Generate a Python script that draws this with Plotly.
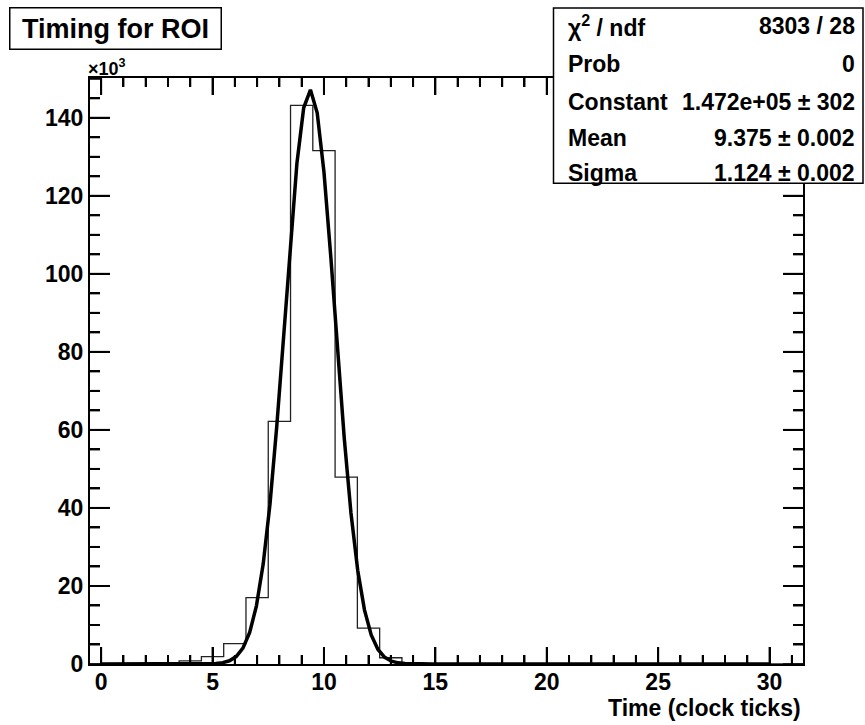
import numpy as np
import plotly.graph_objects as go

# ---- data ----
bin_centers = list(range(0, 32))  # bins of width 1 from -0.5 to 31.5
counts = [0, 0, 100, 300, 800, 1900, 5200, 17000, 62200, 143200, 131600, 47900,
          9200, 1600, 300] + [0] * 17
# Gaussian fit parameters shown in the stats box
fit_const = 1.472e5
fit_mean = 9.375
fit_sigma = 1.124
fit_range = (0.0, 30.0)

x_ticks = [0, 5, 10, 15, 20, 25, 30]
x_minor = list(range(0, 32))
y_ticks = [0, 20000, 40000, 60000, 80000, 100000, 120000, 140000]
y_minor = list(range(0, 150001, 5000))
y_ticktext = ["0", "20", "40", "60", "80", "100", "120", "140"]

stats_labels = ["χ<sup>2</sup> / ndf", "Prob", "Constant", "Mean", "Sigma"]
stats_values = ["8303 / 28", "0", "1.472e+05 ± 302", "9.375 ± 0.002", "1.124 ± 0.002"]

# ---- geometry (pixels) ----
W_PX, H_PX = 865, 725
L, R, T, B = 90, 803, 78, 664
PW, PH = R - L, B - T
X_RANGE = [-0.5, 31.5]
Y_RANGE = [0, 150200]

def xp(px):
    return (px - L) / PW

def yp(py):
    return (B - py) / PH

FONT = "Liberation Sans, Arial, Helvetica, sans-serif"

# histogram outline as a step contour
edges = [c - 0.5 for c in bin_centers] + [bin_centers[-1] + 0.5]
hist_y = counts + [counts[-1]]

fx = np.linspace(fit_range[0], fit_range[1], 100)
fy = fit_const * np.exp(-0.5 * ((fx - fit_mean) / fit_sigma) ** 2)

# inside tick marks (pixel lengths converted with the axis scale)
dx_per_px = (X_RANGE[1] - X_RANGE[0]) / PW
dy_per_px = (Y_RANGE[1] - Y_RANGE[0]) / PH
tx, ty = [], []
for v in x_minor:
    ln = (17 if v in x_ticks else 9) * dy_per_px
    tx += [v, v, None, v, v, None]
    ty += [Y_RANGE[0], Y_RANGE[0] + ln, None, Y_RANGE[1], Y_RANGE[1] - ln, None]
for v in y_minor:
    ln = (20 if v in y_ticks else 10) * dx_per_px
    tx += [X_RANGE[0], X_RANGE[0] + ln, None, X_RANGE[1], X_RANGE[1] - ln, None]
    ty += [v, v, None, v, v, None]

fig = go.Figure()
fig.add_trace(go.Scatter(x=tx, y=ty, mode="lines", connectgaps=False,
                         line=dict(color="black", width=2), hoverinfo="skip"))
fig.add_trace(go.Scatter(x=edges, y=hist_y, mode="lines", line_shape="hv",
                         line=dict(color="#222222", width=1.3), hoverinfo="skip"))
fig.add_trace(go.Scatter(x=fx, y=fy, mode="lines",
                         line=dict(color="black", width=3.5), hoverinfo="skip"))

tickfont = dict(family=FONT, size=23, color="black", weight="bold")

fig.update_layout(
    xaxis=dict(range=X_RANGE, tickmode="array", tickvals=x_ticks, ticks="inside",
               ticklen=17, tickwidth=2, tickcolor="black", showline=True,
               linecolor="black", linewidth=2, mirror="ticks", showgrid=False,
               zeroline=False, tickfont=tickfont, layer="above traces",
               ticklabelstandoff=-4,
               minor=dict(ticks="inside", dtick=1, tick0=0, ticklen=9,
                          tickwidth=2, tickcolor="black", showgrid=False)),
    yaxis=dict(range=Y_RANGE, tickmode="array", tickvals=y_ticks, ticktext=y_ticktext,
               ticks="inside", ticklen=20, tickwidth=2, tickcolor="black",
               showline=True, linecolor="black", linewidth=2, mirror="ticks",
               showgrid=False, zeroline=False, tickfont=tickfont, layer="above traces",
               minor=dict(ticks="inside", dtick=5000, tick0=0, ticklen=10,
                          tickwidth=2, tickcolor="black", showgrid=False)),
)

shapes = [dict(type="rect", xref="paper", yref="paper", layer="above",
               x0=xp(553.5), x1=xp(863), y0=yp(183.3), y1=yp(8),
               line=dict(color="black", width=1.5), fillcolor="white")]

annotations = []
annotations.append(dict(xref="paper", yref="paper", x=xp(9.3), y=yp(7.3),
                        xanchor="left", yanchor="top", text="Timing for ROI",
                        showarrow=False, width=210, height=40, borderpad=0,
                        bordercolor="black", borderwidth=1.5, bgcolor="white",
                        font=dict(family=FONT, size=27, color="black", weight="bold")))
annotations.append(dict(xref="paper", yref="paper", x=xp(86), y=yp(67),
                        xanchor="left", yanchor="middle", text="×10<sup>3</sup>",
                        showarrow=False,
                        font=dict(family=FONT, size=18, color="black", weight="bold")))
annotations.append(dict(xref="paper", yref="paper", x=xp(803), y=yp(708),
                        xanchor="right", yanchor="middle", text="Time (clock ticks)",
                        showarrow=False,
                        font=dict(family=FONT, size=23, color="black", weight="bold")))
row_y = [26, 64.5, 101.5, 137.5, 172.5]
for lab, val, ry in zip(stats_labels, stats_values, row_y):
    annotations.append(dict(xref="paper", yref="paper", x=xp(566), y=yp(ry),
                            xanchor="left", yanchor="middle", text=lab, showarrow=False,
                            font=dict(family=FONT, size=23, color="black", weight="bold")))
    annotations.append(dict(xref="paper", yref="paper", x=xp(857), y=yp(ry),
                            xanchor="right", yanchor="middle", text=val, showarrow=False,
                            font=dict(family=FONT, size=23, color="black", weight="bold")))

fig.update_layout(width=W_PX, height=H_PX, showlegend=False,
                  margin=dict(l=L, r=W_PX - R, t=T, b=H_PX - B, pad=0),
                  paper_bgcolor="white", plot_bgcolor="white",
                  annotations=annotations, shapes=shapes)

fig.write_html("out.html")
